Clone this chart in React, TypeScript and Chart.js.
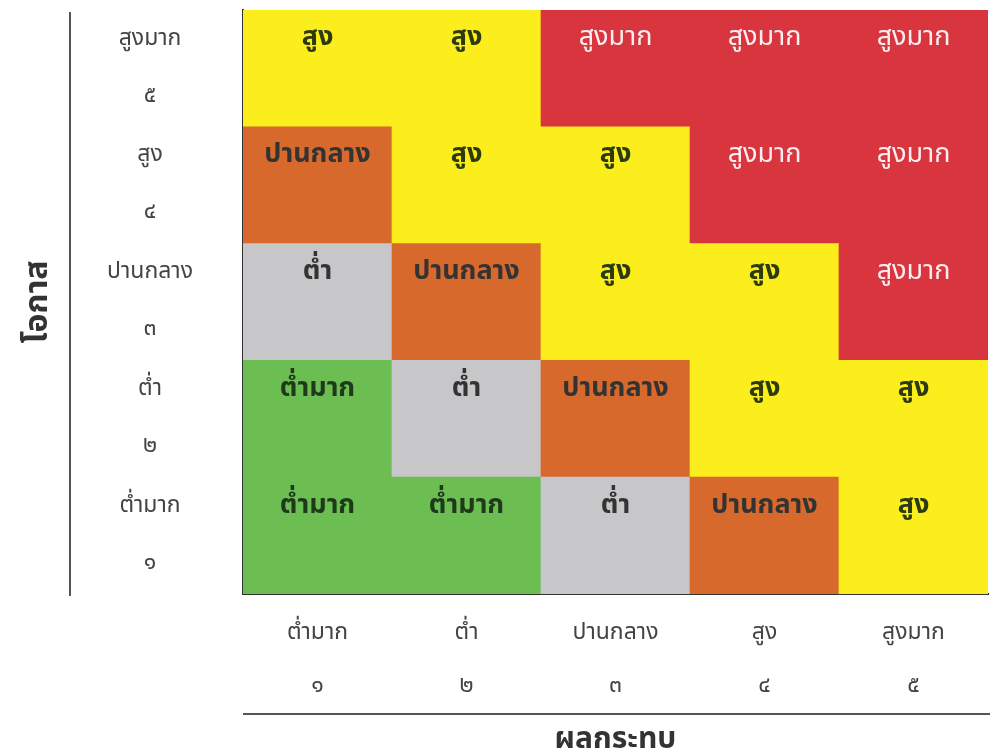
import React, { useEffect, useRef } from "react";
import { Chart, registerables } from "chart.js";

Chart.register(...registerables);

// Risk level names (also used as axis names)
const levelNames = ["ต่ำมาก", "ต่ำ", "ปานกลาง", "สูง", "สูงมาก"];
const thaiDigits = ["๑", "๒", "๓", "๔", "๕"];
const levelColors = ["#6cbd52", "#c7c7c9", "#d8692c", "#fbee1c", "#d8353f"];
const levelTextColors = ["#1e3a1a", "#333333", "#333333", "#2c3a0e", "#fbeef0"];

// Impact (x) categories 1..5
const impactLabels = ["1", "2", "3", "4", "5"];
// Likelihood rows: level index per impact column
const likelihood1 = [0, 0, 1, 2, 3];
const likelihood2 = [0, 1, 2, 3, 3];
const likelihood3 = [1, 2, 3, 3, 4];
const likelihood4 = [2, 3, 3, 4, 4];
const likelihood5 = [3, 3, 4, 4, 4];
const likelihoodRows = [likelihood1, likelihood2, likelihood3, likelihood4, likelihood5];

const yTitle = "โอกาส";
const xTitle = "ผลกระทบ";

const FONT = "Tahoma, 'Noto Sans Thai', 'Noto Sans Thai UI', Loma, Garuda, Kinnari, 'Noto Sans', 'DejaVu Sans', sans-serif";

const cellTextPlugin = {
  id: "cellText",
  afterDatasetsDraw(chart: any) {
    const ctx = chart.ctx;
    ctx.save();
    ctx.textAlign = "center";
    ctx.textBaseline = "middle";
    chart.data.datasets.forEach((ds: any, i: number) => {
      const meta = chart.getDatasetMeta(i);
      meta.data.forEach((bar: any, j: number) => {
        const { x, y, base } = bar.getProps(["x", "y", "base"], true);
        const top = Math.min(y, base);
        const level = likelihoodRows[i][j];
        ctx.fillStyle = levelTextColors[level];
        ctx.font = (level === 4 ? "normal " : "bold ") + "27px " + FONT;
        ctx.fillText(levelNames[level], x, top + 30);
      });
    });
    ctx.restore();
  },
};

const dividerPlugin = {
  id: "dividers",
  afterDraw(chart: any) {
    const ctx = chart.ctx;
    const area = chart.chartArea;
    ctx.save();
    ctx.strokeStyle = "#555555";
    ctx.lineWidth = 2;
    ctx.beginPath();
    ctx.moveTo(70, area.top + 2);
    ctx.lineTo(70, area.bottom + 2);
    ctx.stroke();
    ctx.beginPath();
    ctx.moveTo(area.left, 714);
    ctx.lineTo(area.right + 2, 714);
    ctx.stroke();
    ctx.restore();
  },
};

export default function App() {
  const ref = useRef<HTMLCanvasElement | null>(null);

  useEffect(() => {
    document.body.style.margin = "0";
    if (!ref.current) return;
    const chart = new Chart(ref.current, {
      type: "bar",
      data: {
        labels: impactLabels,
        datasets: likelihoodRows.map((row, i) => ({
          label: "L" + (i + 1),
          data: row.map(() => 1),
          backgroundColor: row.map((lv) => levelColors[lv]),
          borderWidth: 0,
          barPercentage: 1,
          categoryPercentage: 1,
        })),
      },
      options: {
        animation: false,
        responsive: true,
        maintainAspectRatio: false,
        layout: { padding: { top: 10, right: 6, left: 0, bottom: 0 } },
        plugins: {
          legend: { display: false },
          tooltip: { enabled: false },
        },
        scales: {
          x: {
            type: "category",
            stacked: true,
            grid: { display: false },
            border: { display: true, color: "#333333", width: 2 },
            afterFit: (s: any) => {
              s.height = 162;
              s.paddingLeft = 0;
              s.paddingRight = 0;
            },
            ticks: {
              padding: 6,
              color: "#444444",
              font: { family: FONT, size: 23, lineHeight: 2.3 },
              callback: (_v: any, idx: number) => [levelNames[idx], thaiDigits[idx]],
            },
            title: {
              display: true,
              text: xTitle,
              color: "#333333",
              font: { family: FONT, size: 30, weight: "bold" },
              padding: { top: 0, bottom: -4 },
            },
          },
          y: {
            type: "linear",
            stacked: true,
            min: 0,
            max: 5,
            grid: { display: false },
            border: { display: true, color: "#333333", width: 2 },
            afterFit: (s: any) => {
              s.width = 243;
              s.paddingTop = 0;
              s.paddingBottom = 0;
            },
            afterBuildTicks: (s: any) => {
              s.ticks = likelihoodRows.map((_r, i) => ({ value: i + 0.5 }));
            },
            ticks: {
              autoSkip: false,
              crossAlign: "center",
              padding: 42,
              color: "#444444",
              font: { family: FONT, size: 23, lineHeight: 2.48 },
              callback: (v: any) => {
                const i = Math.floor(Number(v));
                return [levelNames[i], thaiDigits[i]];
              },
            },
            title: {
              display: true,
              text: yTitle,
              color: "#333333",
              font: { family: FONT, size: 32, weight: "bold" },
              padding: { top: 21, bottom: 0 },
            },
          },
        },
      },
      plugins: [cellTextPlugin, dividerPlugin],
    } as any);
    return () => chart.destroy();
  }, []);

  return (
    <div style={{ width: 994, height: 756, position: "relative" }}>
      <canvas ref={ref} />
    </div>
  );
}
